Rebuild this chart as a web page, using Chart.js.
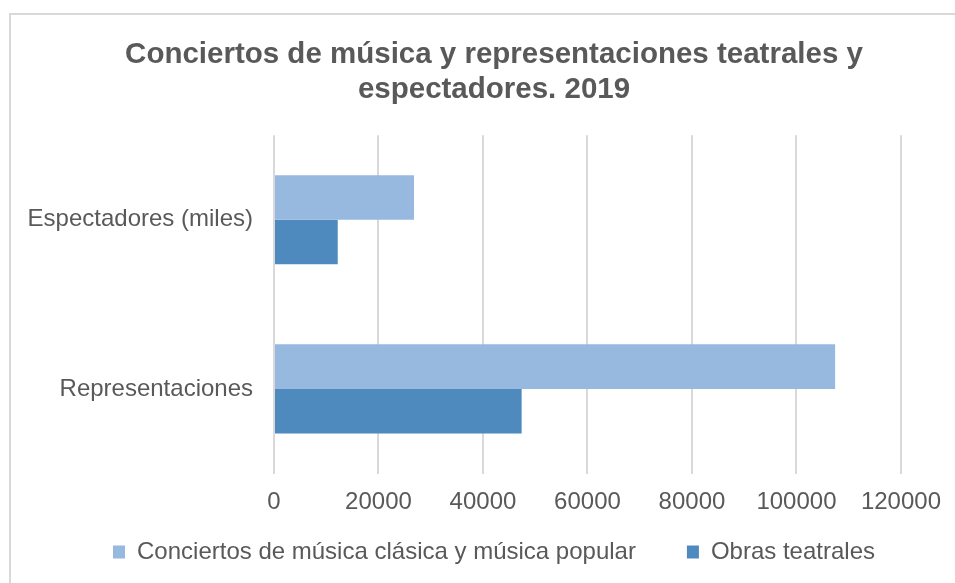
<!DOCTYPE html>
<html lang="es">
<head>
<meta charset="utf-8">
<title>Conciertos y representaciones 2019</title>
<script src="https://cdn.jsdelivr.net/npm/chart.js@4.4.1/dist/chart.umd.min.js"></script>
<style>
    html, body { margin: 0; padding: 0; background: #ffffff; overflow: hidden; }
    #marco {
        position: absolute; left: 9px; top: 13px;
        width: 1000px; height: 1000px;
        border: 2px solid #d9d9d9;
    }
    #grafico { position: absolute; left: 0; top: 0; }
</style>
</head>
<body>
<div id="marco"></div>
<canvas id="grafico" width="955" height="583"></canvas>
<script>
// Datos del gráfico
var categorias = ['Espectadores (miles)', 'Representaciones'];
var conciertos = [26800, 107400];
var obrasTeatrales = [12200, 47400];
var ticksX = [0, 20000, 40000, 60000, 80000, 100000, 120000];
var nombresSeries = ['Conciertos de música clásica y música popular', 'Obras teatrales'];
var titulo = ['Conciertos de música y representaciones teatrales y', 'espectadores. 2019'];

document.addEventListener('DOMContentLoaded', function() {
    var ctx = document.getElementById('grafico').getContext('2d');
    var gris = '#595959';
    var fuente = '"Liberation Sans", Arial, sans-serif';

    var data = {
        labels: categorias,
        datasets: [{
            label: nombresSeries[0],
            data: conciertos,
            backgroundColor: '#97b9e0',
            borderWidth: 0,
            categoryPercentage: 0.527,
            barPercentage: 1.0
        }, {
            label: nombresSeries[1],
            data: obrasTeatrales,
            backgroundColor: '#4f8abe',
            borderWidth: 0,
            categoryPercentage: 0.527,
            barPercentage: 1.0
        }]
    };

    // Amplía la zona de recorte de las etiquetas de los ejes
    // (los ejes quedan estrechos para que título y leyenda se centren como en el original)
    var recorteEjes = {
        id: 'recorteEjes',
        afterLayout: function(chart) {
            chart.scales.y.left = 0;
            chart.scales.x.bottom = chart.height;
        }
    };

    var options = {
        indexAxis: 'y',
        responsive: false,
        animation: false,
        layout: { padding: { top: 37, right: 12, bottom: 9, left: 45 } },
        scales: {
            x: {
                min: ticksX[0],
                max: ticksX[ticksX.length - 1],
                afterBuildTicks: function(scale) {
                    scale.ticks = ticksX.map(function(v) { return { value: v }; });
                },
                grid: { color: '#d9d9d9', lineWidth: 2, drawTicks: false },
                border: { display: false },
                ticks: {
                    color: gris,
                    padding: 14,
                    maxRotation: 0,
                    font: { family: fuente, size: 24 },
                    callback: function(v) { return String(v); }
                },
                afterFit: function(scale) { scale.height = 15.5; }
            },
            y: {
                grid: { display: false, drawTicks: false },
                border: { display: false },
                ticks: {
                    color: gris,
                    padding: 21,
                    font: { family: fuente, size: 24 }
                },
                afterFit: function(scale) { scale.width = 229; }
            }
        },
        plugins: {
            title: {
                display: true,
                text: titulo,
                color: gris,
                font: { family: fuente, size: 29.5, weight: 'bold', lineHeight: 1.19 },
                padding: { top: 0, bottom: 28 }
            },
            legend: {
                position: 'bottom',
                labels: {
                    color: gris,
                    boxWidth: 12,
                    boxHeight: 13,
                    padding: 51,
                    font: { family: fuente, size: 24 }
                }
            },
            tooltip: { enabled: false }
        }
    };

    var grafico = new Chart(ctx, {
        type: 'bar',
        data: data,
        options: options,
        plugins: [recorteEjes]
    });
});
</script>
</body>
</html>
